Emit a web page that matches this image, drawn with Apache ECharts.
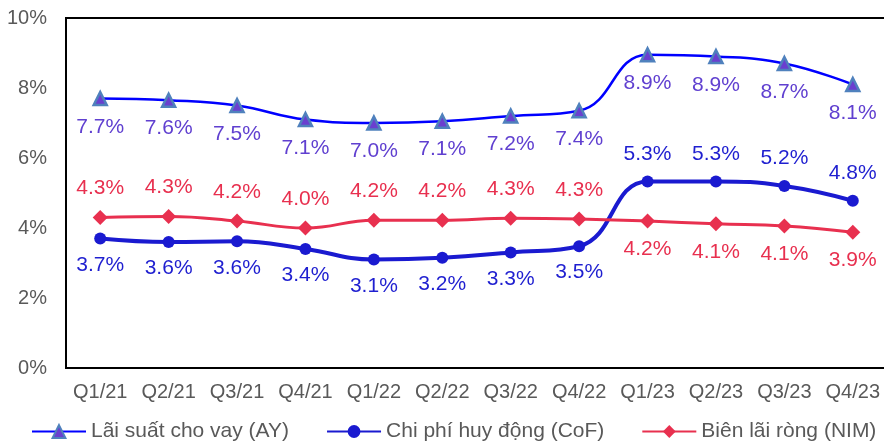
<!DOCTYPE html>
<html>
<head>
<meta charset="utf-8">
<script src="https://cdn.jsdelivr.net/npm/echarts@6/dist/echarts.min.js"></script>
<style>
html, body { margin: 0; padding: 0; background: #fff; }
#main { width: 884px; height: 441px; }
</style>
</head>
<body>
<div id="main"></div>
<script>
var quarters = ['Q1/21', 'Q2/21', 'Q3/21', 'Q4/21', 'Q1/22', 'Q2/22', 'Q3/22', 'Q4/22', 'Q1/23', 'Q2/23', 'Q3/23', 'Q4/23'];
var ay = [7.7, 7.65, 7.5, 7.1, 7.0, 7.05, 7.2, 7.35, 8.95, 8.9, 8.7, 8.1];
var cof = [3.7, 3.6, 3.62, 3.4, 3.1, 3.15, 3.3, 3.48, 5.33, 5.33, 5.2, 4.78];
var nim = [4.3, 4.33, 4.2, 4.0, 4.22, 4.22, 4.28, 4.26, 4.2, 4.12, 4.06, 3.88];
var ayLabels = ['7.7%', '7.6%', '7.5%', '7.1%', '7.0%', '7.1%', '7.2%', '7.4%', '8.9%', '8.9%', '8.7%', '8.1%'];
var cofLabels = ['3.7%', '3.6%', '3.6%', '3.4%', '3.1%', '3.2%', '3.3%', '3.5%', '5.3%', '5.3%', '5.2%', '4.8%'];
var nimLabels = ['4.3%', '4.3%', '4.2%', '4.0%', '4.2%', '4.2%', '4.3%', '4.3%', '4.2%', '4.1%', '4.1%', '3.9%'];
var yTicks = [0, 2, 4, 6, 8, 10];

var font = 'Liberation Sans, Arial, sans-serif';

function points(values, texts, flipFrom, normalPos, flipPos, color) {
    return values.map(function(v, i) {
        var pos = i >= flipFrom ? flipPos : normalPos;
        return {
            value: v,
            label: {
                position: pos,
                distance: pos === 'top' ? 11 : 10,
                formatter: texts[i],
                color: color
            }
        };
    });
}

var chart = echarts.init(document.getElementById('main'));
var option = {
    animation: false,
    textStyle: { fontFamily: font },
    grid: {
        left: 66,
        width: 821,
        top: 18,
        height: 350,
        outerBoundsMode: 'none',
        show: true,
        borderColor: '#000',
        borderWidth: 2
    },
    legend: {
        top: 421,
        left: 31,
        padding: 0,
        width: 860,
        itemGap: 37,
        itemWidth: 54,
        itemHeight: 16,
        textStyle: { fontSize: 21, color: '#595959', fontFamily: font },
        data: ['Lãi suất cho vay (AY)', 'Chi phí huy động (CoF)', 'Biên lãi ròng (NIM)']
    },
    xAxis: {
        type: 'category',
        data: quarters,
        boundaryGap: true,
        axisLine: { lineStyle: { color: '#000', width: 2 } },
        axisTick: { show: false },
        axisLabel: { interval: 0, fontSize: 20, color: '#595959', margin: 14, fontFamily: font }
    },
    yAxis: {
        type: 'value',
        min: yTicks[0],
        max: yTicks[yTicks.length - 1],
        interval: 2,
        splitLine: { show: false },
        axisLine: { show: true, lineStyle: { color: '#000', width: 2 } },
        axisLabel: { fontSize: 20, color: '#595959', margin: 19, formatter: '{value}%', fontFamily: font }
    },
    series: [
        {
            name: 'Lãi suất cho vay (AY)',
            type: 'line',
            smooth: 0.45,
            symbol: 'triangle',
            symbolSize: 13,
            lineStyle: { color: '#0000ff', width: 2.5 },
            itemStyle: { color: '#6a3fcf', borderColor: '#4f81bd', borderWidth: 2.5 },
            label: { show: true, fontSize: 21, fontFamily: font },
            data: points(ay, ayLabels, 99, 'bottom', 'bottom', '#6040d0')
        },
        {
            name: 'Chi phí huy động (CoF)',
            type: 'line',
            smooth: 0.45,
            symbol: 'circle',
            symbolSize: 12,
            lineStyle: { color: '#1a1ad0', width: 4 },
            itemStyle: { color: '#1a1ad0' },
            label: { show: true, fontSize: 21, fontFamily: font },
            data: points(cof, cofLabels, 8, 'bottom', 'top', '#1f1fd0')
        },
        {
            name: 'Biên lãi ròng (NIM)',
            type: 'line',
            smooth: 0.45,
            symbol: 'diamond',
            symbolSize: 15,
            lineStyle: { color: '#e8304f', width: 3 },
            itemStyle: { color: '#e8304f' },
            label: { show: true, fontSize: 21, fontFamily: font },
            data: points(nim, nimLabels, 8, 'top', 'bottom', '#e8304f')
        }
    ]
};
chart.setOption(option);
</script>
</body>
</html>
